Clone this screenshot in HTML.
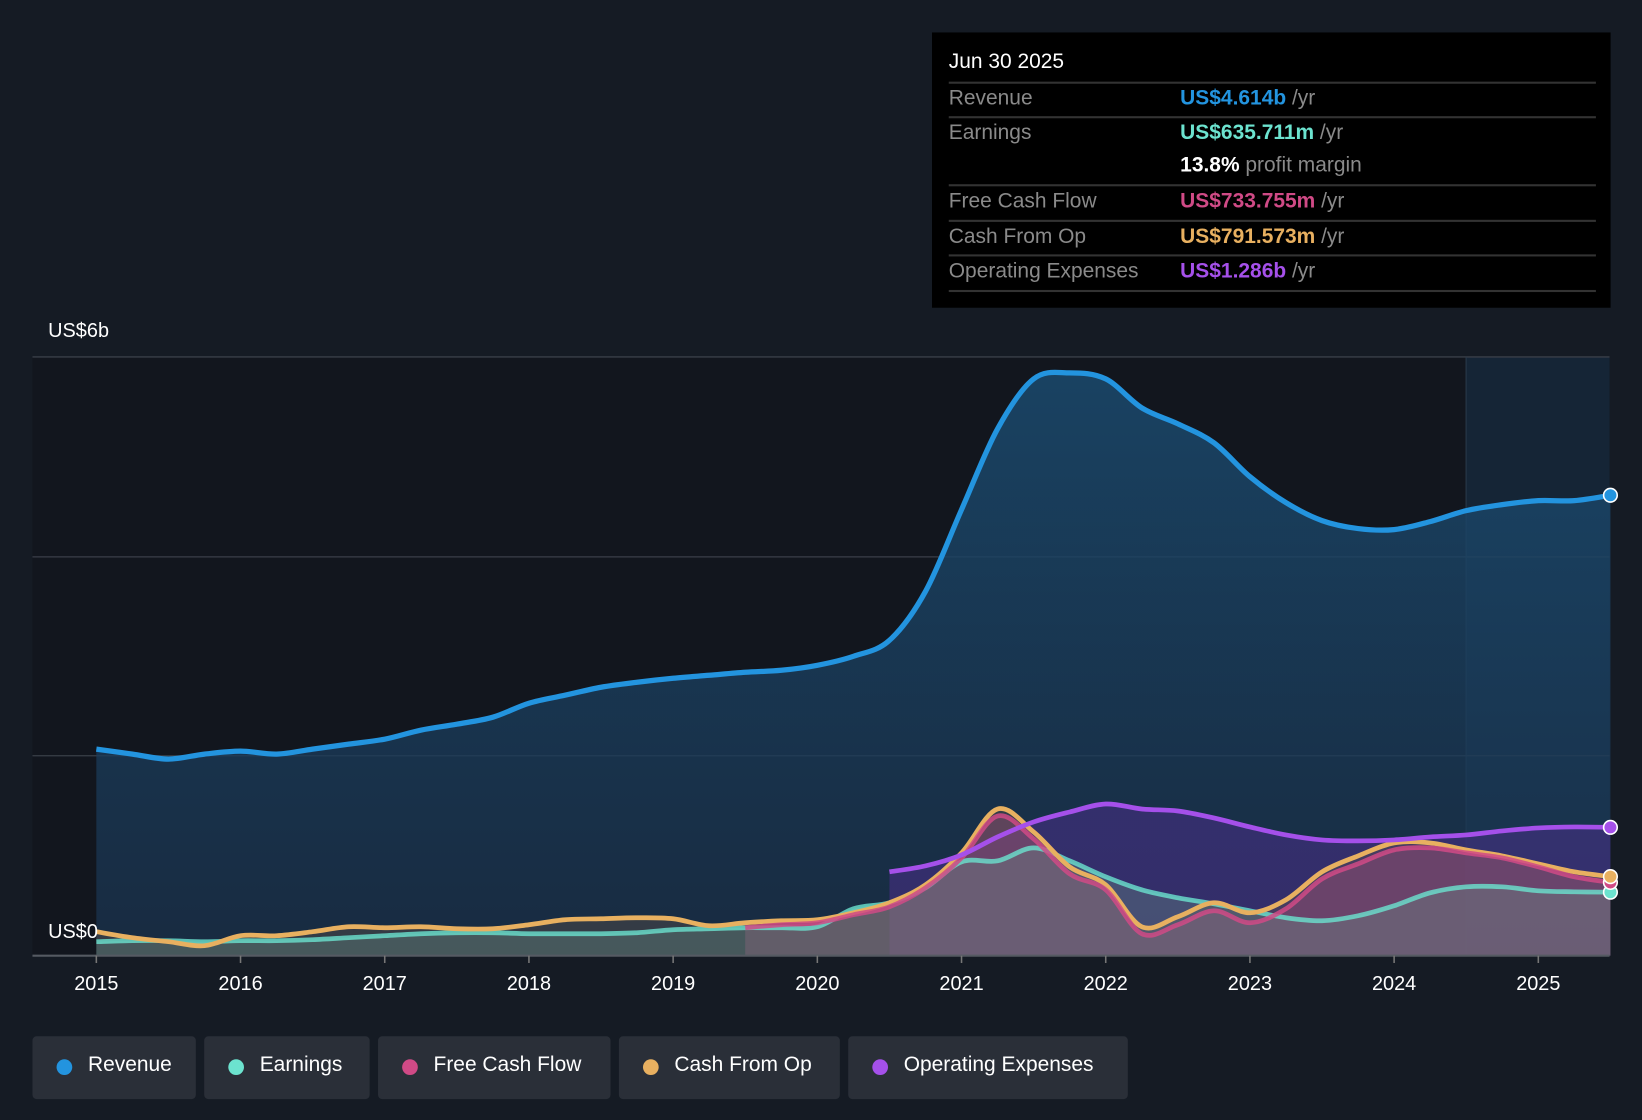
<!DOCTYPE html>
<html><head><meta charset="utf-8">
<style>
html,body{margin:0;padding:0;background:#151b24;overflow:hidden;width:1642px;height:1120px}
#stage{position:absolute;left:0;top:0;width:1568px;height:1070px;transform:scale(1.04719,1.04673);transform-origin:0 0;font-family:"Liberation Sans",sans-serif;background:#151b24}
.tip{position:absolute;left:890px;top:31px;width:648px;height:263px;background:#000}
.tip .d{position:absolute;left:16px;top:17px;color:#fff;font-size:20px}
.row{position:absolute;left:16px;width:618px;border-top:2px solid #333;height:32px;font-size:20px}
.row .l{position:absolute;left:0;top:3px;color:#8a8a8a}
.row .v{position:absolute;left:221px;top:3px;color:#8a8a8a}
.row b{font-weight:bold}
.legend{position:absolute;top:990px;height:60px;background:#2a2f38;border-radius:4px;color:#fff;font-size:20px}
.legend span.dot{position:absolute;left:23px;top:22px;width:15px;height:15px;border-radius:50%}
.legend span.t{position:absolute;left:53px;top:16px}
.ax{position:absolute;color:#fff;font-size:19px}
</style></head><body>
<div id="stage">
<svg id="chart" width="1568" height="1070" style="position:absolute;left:0;top:0"></svg>
<div class="ax" style="left:46px;top:306px">US$6b</div>
<div class="ax" style="left:46px;top:880px">US$0</div>
<div class="tip">
 <div class="d">Jun 30 2025</div>
 <div class="row" style="top:47px"><span class="l">Revenue</span><span class="v"><b style="color:#2394df">US$4.614b</b> /yr</span></div>
 <div class="row" style="top:80px;border-bottom:none"><span class="l">Earnings</span><span class="v"><b style="color:#6ce3cf">US$635.711m</b> /yr</span></div>
 <div class="row" style="top:113px;border-top:none"><span class="v"><b style="color:#fff">13.8%</b> profit margin</span></div>
 <div class="row" style="top:145px"><span class="l">Free Cash Flow</span><span class="v"><b style="color:#d04a86">US$733.755m</b> /yr</span></div>
 <div class="row" style="top:179px"><span class="l">Cash From Op</span><span class="v"><b style="color:#e8b060">US$791.573m</b> /yr</span></div>
 <div class="row" style="top:212px"><span class="l">Operating Expenses</span><span class="v"><b style="color:#a550ea">US$1.286b</b> /yr</span></div>
 <div class="row" style="top:246px;height:0"></div>
</div>
<div class="legend" style="left:31px;width:156px"><span class="dot" style="background:#2394df"></span><span class="t">Revenue</span></div>
<div class="legend" style="left:195px;width:158px"><span class="dot" style="background:#6ce3cf"></span><span class="t">Earnings</span></div>
<div class="legend" style="left:361px;width:222px"><span class="dot" style="background:#d04a86"></span><span class="t">Free Cash Flow</span></div>
<div class="legend" style="left:591px;width:211px"><span class="dot" style="background:#e8b060"></span><span class="t">Cash From Op</span></div>
<div class="legend" style="left:810px;width:267px"><span class="dot" style="background:#a550ea"></span><span class="t">Operating Expenses</span></div>
</div>
<script>
const revenue=[2.07,2.02,1.97,2.02,2.05,2.02,2.07,2.12,2.17,2.26,2.32,2.39,2.53,2.61,2.69,2.74,2.78,2.81,2.84,2.86,2.91,3.00,3.16,3.65,4.47,5.28,5.78,5.84,5.78,5.49,5.33,5.14,4.80,4.54,4.36,4.28,4.27,4.35,4.46,4.52,4.56,4.56,4.614];
const earnings=[0.14,0.15,0.15,0.14,0.15,0.15,0.16,0.18,0.20,0.22,0.23,0.23,0.22,0.22,0.22,0.23,0.26,0.27,0.28,0.28,0.29,0.47,0.53,0.68,0.94,0.95,1.08,0.95,0.79,0.66,0.58,0.52,0.45,0.38,0.35,0.40,0.50,0.63,0.69,0.69,0.65,0.64,0.636];
const cashFromOp=[0.24,0.18,0.14,0.10,0.20,0.20,0.24,0.29,0.28,0.29,0.27,0.27,0.31,0.36,0.37,0.38,0.37,0.30,0.33,0.35,0.36,0.43,0.53,0.71,1.03,1.47,1.24,0.89,0.71,0.29,0.39,0.53,0.43,0.56,0.84,1.00,1.13,1.13,1.06,1.00,0.92,0.84,0.792];
const freeCashFlow=[0.28,0.31,0.33,0.41,0.49,0.68,0.98,1.40,1.17,0.82,0.66,0.22,0.31,0.45,0.33,0.47,0.77,0.92,1.06,1.08,1.03,0.98,0.89,0.79,0.734];
const fcfStart=2019.5;
const opex=[0.84,0.90,1.01,1.19,1.34,1.44,1.52,1.47,1.45,1.38,1.29,1.21,1.16,1.15,1.16,1.19,1.21,1.25,1.28,1.29,1.286];
const opexStart=2020.5;
const xTicks=[2015,2016,2017,2018,2019,2020,2021,2022,2023,2024,2025];
const seriesStart=2015;

const NS="http://www.w3.org/2000/svg";
const svg=document.getElementById('chart');
const X=t=>92+(t-2015)*137.7;
const Y=v=>913-v*95.33;
function mk(tag,attrs){const e=document.createElementNS(NS,tag);for(const k in attrs)e.setAttribute(k,attrs[k]);svg.appendChild(e);return e;}
function pts(arr,start){return arr.map((v,i)=>[X(start+i*0.25),Y(v)]);}
function smooth(p){let d=`M${p[0][0]},${p[0][1]}`;for(let i=0;i<p.length-1;i++){const p0=p[i-1]||p[i],p1=p[i],p2=p[i+1],p3=p[i+2]||p2;const c1=[p1[0]+(p2[0]-p0[0])/6,p1[1]+(p2[1]-p0[1])/6],c2=[p2[0]-(p3[0]-p1[0])/6,p2[1]-(p3[1]-p1[1])/6];d+=`C${c1[0]},${c1[1]} ${c2[0]},${c2[1]} ${p2[0]},${p2[1]}`;}return d;}
function area(p){return smooth(p)+`L${p[p.length-1][0]},913L${p[0][0]},913Z`;}

let e=mk('rect',{x:31,y:341,width:1369,height:572,fill:'#12161e'});

e=mk('rect',{x:1400,y:341,width:137,height:572,fill:'#152536'});

[341,532,722].forEach(y=>{const g=mk('line',{x1:31,x2:1537,y1:y,y2:y,stroke:'#3a3f48','stroke-width':1.2});});
e=mk('line',{x1:1400,x2:1400,y1:341,y2:913,stroke:'#2a3a4a','stroke-width':1});


const defs=document.createElementNS(NS,'defs');defs.innerHTML='<linearGradient id="rg" x1="0" x2="0" y1="0" y2="1"><stop offset="0" stop-color="#1a4a6e" stop-opacity="0.85"/><stop offset="1" stop-color="#1b3450" stop-opacity="0.7"/></linearGradient>';svg.appendChild(defs);

const rp=pts(revenue,seriesStart),ep=pts(earnings,seriesStart),cp=pts(cashFromOp,seriesStart),fp=pts(freeCashFlow,fcfStart),op=pts(opex,opexStart);
e=mk('path',{d:area(rp),fill:'url(#rg)'});
e=mk('path',{d:area(op),fill:'#4a2f8a','fill-opacity':0.55});
e=mk('path',{d:area(cp),fill:'#6b5a4a','fill-opacity':0.35});
e=mk('path',{d:area(fp),fill:'#b05080','fill-opacity':0.35});
e=mk('path',{d:area(ep),fill:'#6a9088','fill-opacity':0.35});

e=mk('path',{d:smooth(ep),fill:'none',stroke:'#6ce3cf','stroke-width':4.5,'stroke-opacity':0.8});
e=mk('path',{d:smooth(cp),fill:'none',stroke:'#e8b060','stroke-width':4.5});
e=mk('path',{d:smooth(fp),fill:'none',stroke:'#d04a86','stroke-width':4.5,'stroke-opacity':0.85});
e=mk('path',{d:smooth(op),fill:'none',stroke:'#a550ea','stroke-width':4.5});
e=mk('path',{d:smooth(rp),fill:'none',stroke:'#2394df','stroke-width':5});

[[ep,'#6ce3cf','earnings-end-dot'],[fp,'#d04a86','fcf-end-dot'],[cp,'#e8b060','cash-from-op-end-dot'],[op,'#a550ea','opex-end-dot'],[rp,'#2394df','revenue-end-dot']].forEach(([p,c,n])=>{const q=p[p.length-1];const d=mk('circle',{cx:q[0],cy:q[1],r:6.5,fill:c,stroke:'#fff','stroke-width':1.5});});

e=mk('line',{x1:31,x2:1537,y1:913,y2:913,stroke:'#555a62','stroke-width':2});
xTicks.forEach(t=>{const l=mk('line',{x1:X(t),x2:X(t),y1:913,y2:920,stroke:'#777','stroke-width':1.5});
const tx=mk('text',{x:X(t),y:946,fill:'#fff','font-size':19,'text-anchor':'middle','font-family':'Liberation Sans, sans-serif'});tx.textContent=t;});
</script>
</body></html>
